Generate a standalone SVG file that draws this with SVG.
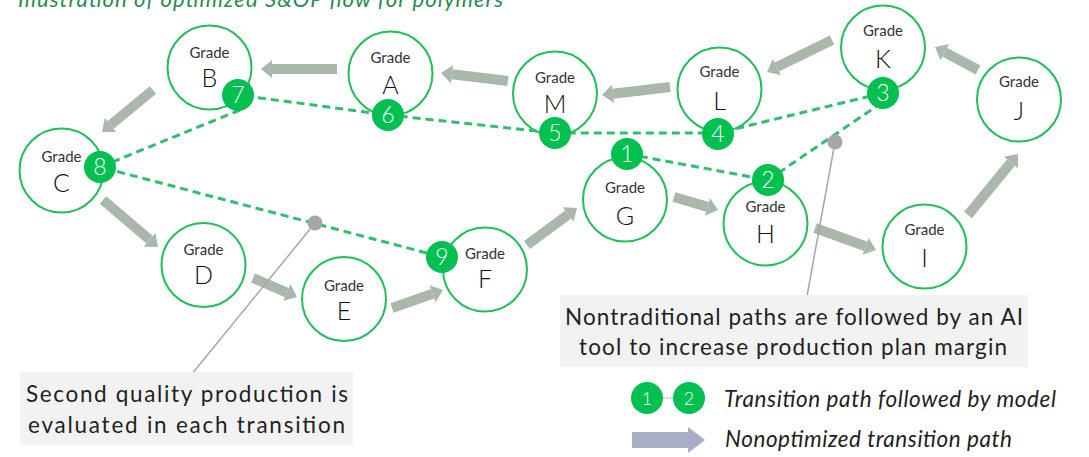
<svg xmlns="http://www.w3.org/2000/svg" width="1089" height="457" viewBox="0 0 1089 457">
<style>
.title{font-family:Lato,"Liberation Sans",sans-serif;font-style:italic;font-size:22px;fill:#2a8a55}
.node circle{fill:#fff;stroke:#1fbf5a;stroke-width:2}
.g{font-family:Lato,"Liberation Sans",sans-serif;font-size:15px;fill:#333;text-anchor:middle}
.l{font-family:Lato,"Liberation Sans",sans-serif;font-weight:300;font-size:25px;fill:#111;text-anchor:middle}
.arr line{stroke:#a9b8aa;stroke-width:10;stroke-linecap:butt}
.dash{fill:none;stroke:#2ec06e;stroke-width:3;stroke-dasharray:8 5}
.badge circle{fill:#00c050}
.badge text{font-family:Lato,"Liberation Sans",sans-serif;font-weight:300;font-size:23px;fill:#fff;text-anchor:middle}
.box{fill:#f2f2f2}
.bt{font-family:Lato,"Liberation Sans",sans-serif;font-size:22.5px;fill:#1f1f1f}
.lt{font-family:Lato,"Liberation Sans",sans-serif;font-style:italic;font-size:22.5px;fill:#1f1f1f}
.gl{stroke:#a6a6a6;stroke-width:1.5}
.gd{fill:#a6a6a6}
</style>
<defs>
<marker id="ah" markerUnits="userSpaceOnUse" markerWidth="12" markerHeight="20" refX="0" refY="10" orient="auto" overflow="visible">
<path d="M0,1 L11,10 L0,19 Z" fill="#a9b8aa"/>
</marker>
</defs>
<text class="title" x="18" y="7" textLength="485" lengthAdjust="spacing">Illustration of optimized S&amp;OP flow for polymers</text>

<g id="connectors">
<g class="arr">
<line x1="337" y1="69" x2="272" y2="69" marker-end="url(#ah)"/>
<line x1="508" y1="81" x2="451.9" y2="74.3" marker-end="url(#ah)"/>
<line x1="670" y1="87" x2="612.9" y2="93.7" marker-end="url(#ah)"/>
<line x1="832" y1="40" x2="776.9" y2="67.1" marker-end="url(#ah)"/>
<line x1="978" y1="70" x2="944.7" y2="52.2" marker-end="url(#ah)"/>
<line x1="968" y1="215" x2="1011" y2="162.5" marker-end="url(#ah)"/>
<line x1="815" y1="228" x2="865.6" y2="246.3" marker-end="url(#ah)"/>
<line x1="674" y1="197" x2="707.5" y2="206.9" marker-end="url(#ah)"/>
<line x1="527" y1="245" x2="568.2" y2="214.5" marker-end="url(#ah)"/>
<line x1="392" y1="308" x2="432.6" y2="293.7" marker-end="url(#ah)"/>
<line x1="253" y1="278" x2="286.9" y2="292.6" marker-end="url(#ah)"/>
<line x1="103" y1="200" x2="149.6" y2="239.8" marker-end="url(#ah)"/>
<line x1="153" y1="90" x2="110.5" y2="125" marker-end="url(#ah)"/>
</g>
</g>

<g id="nodes">
<g id="node-A" class="node"><circle cx="390.5" cy="73.5" r="42"/><text class="g" x="390.5" y="63">Grade</text><text class="l" x="390.5" y="94">A</text></g>
<g id="node-B" class="node"><circle cx="209.5" cy="67.5" r="42"/><text class="g" x="209.5" y="58">Grade</text><text class="l" x="209.5" y="87">B</text></g>
<g id="node-C" class="node"><circle cx="61.5" cy="170.5" r="42"/><text class="g" x="61.5" y="161.5">Grade</text><text class="l" x="61.5" y="192">C</text></g>
<g id="node-D" class="node"><circle cx="203.5" cy="265" r="42"/><text class="g" x="203.5" y="255">Grade</text><text class="l" x="203.5" y="284">D</text></g>
<g id="node-E" class="node"><circle cx="344" cy="299" r="42"/><text class="g" x="344" y="291">Grade</text><text class="l" x="344" y="320">E</text></g>
<g id="node-F" class="node"><circle cx="485" cy="269.5" r="42"/><text class="g" x="485" y="259">Grade</text><text class="l" x="485" y="288">F</text></g>
<g id="node-G" class="node"><circle cx="625" cy="199.5" r="42"/><text class="g" x="625" y="193">Grade</text><text class="l" x="625" y="225">G</text></g>
<g id="node-H" class="node"><circle cx="765.5" cy="223.5" r="42"/><text class="g" x="765.5" y="211.5">Grade</text><text class="l" x="765.5" y="243">H</text></g>
<g id="node-I" class="node"><circle cx="924.5" cy="246.5" r="42"/><text class="g" x="924.5" y="235">Grade</text><text class="l" x="924.5" y="267">I</text></g>
<g id="node-J" class="node"><circle cx="1019" cy="99.5" r="42"/><text class="g" x="1019" y="87">Grade</text><text class="l" x="1019" y="120">J</text></g>
<g id="node-K" class="node"><circle cx="883" cy="47.5" r="42"/><text class="g" x="883" y="36">Grade</text><text class="l" x="883" y="68">K</text></g>
<g id="node-L" class="node"><circle cx="719.5" cy="89.5" r="42"/><text class="g" x="719.5" y="77">Grade</text><text class="l" x="719.5" y="110">L</text></g>
<g id="node-M" class="node"><circle cx="555" cy="93.5" r="42"/><text class="g" x="555" y="83">Grade</text><text class="l" x="555" y="113">M</text></g>
</g>

<g id="path-connectors">
<polyline class="dash" points="627,154 768,180 880,104"/>
<polyline class="dash" points="883,93 718,133 555,133 388,115 238,95"/>
<polyline class="dash" points="240,110 100,167 442,257"/>
<line class="gl" x1="315" y1="223" x2="187" y2="380"/>
<line class="gl" x1="835" y1="142" x2="807" y2="296"/>
<circle class="gd" cx="315" cy="223" r="7.5"/>
<circle class="gd" cx="835" cy="142" r="7.5"/>
</g>

<g id="badges" class="badge">
<g id="b1"><circle cx="627" cy="154" r="16"/><text x="627" y="162">1</text></g>
<g id="b2"><circle cx="768" cy="180" r="16"/><text x="768" y="188">2</text></g>
<g id="b3"><circle cx="883" cy="93" r="16"/><text x="883" y="101">3</text></g>
<g id="b4"><circle cx="718" cy="134" r="16"/><text x="718" y="142">4</text></g>
<g id="b5"><circle cx="555" cy="133" r="16"/><text x="555" y="141">5</text></g>
<g id="b6"><circle cx="388" cy="115" r="16"/><text x="388" y="123">6</text></g>
<g id="b7"><circle cx="238" cy="95" r="16"/><text x="238" y="103">7</text></g>
<g id="b8"><circle cx="100" cy="167" r="16"/><text x="100" y="175">8</text></g>
<g id="b9"><circle cx="442" cy="257" r="16"/><text x="442" y="265">9</text></g>
</g>

<g id="note-ai">
<rect class="box" x="560" y="295" width="468" height="72"/>
<text class="bt" x="565" y="325" textLength="458" lengthAdjust="spacing">Nontraditional paths are followed by an AI</text>
<text class="bt" x="579" y="355" textLength="428" lengthAdjust="spacing">tool to increase production plan margin</text>
</g>
<g id="note-quality">
<rect class="box" x="20" y="372" width="333" height="73"/>
<text class="bt" x="26" y="402" textLength="322" lengthAdjust="spacing">Second quality production is</text>
<text class="bt" x="28" y="433" textLength="317" lengthAdjust="spacing">evaluated in each transition</text>
</g>

<g id="legend">
<line x1="663" y1="398" x2="673" y2="398" stroke="#9fdcb6" stroke-width="1.5" stroke-dasharray="2 1"/>
<g class="badge"><circle cx="647" cy="398" r="16"/><text x="647" y="405" style="font-size:18px">1</text>
<circle cx="689" cy="398" r="16"/><text x="689" y="405" style="font-size:18px">2</text></g>
<text class="lt" x="724" y="407" textLength="332" lengthAdjust="spacing">Transition path followed by model</text>
<path d="M632,432 H688 V427 L705,440 L688,453 V448 H632 Z" fill="#a9adc6"/>
<text class="lt" x="725" y="447" textLength="287" lengthAdjust="spacing">Nonoptimized transition path</text>
</g>
</svg>
